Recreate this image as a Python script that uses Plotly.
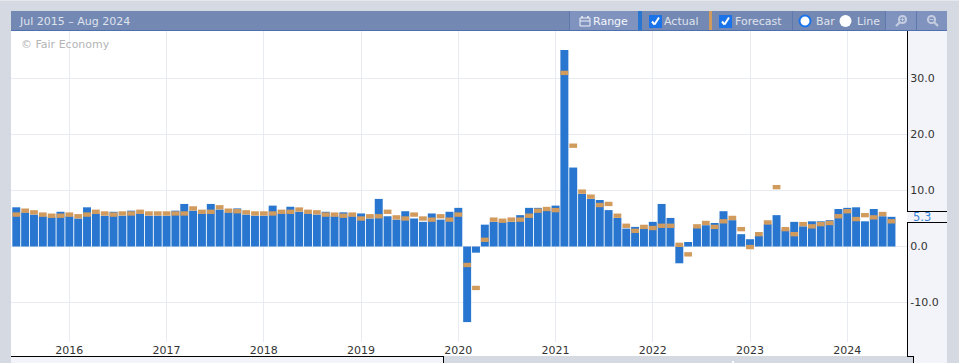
import plotly.graph_objects as go

actual = [7.0,6.1,5.7,5.4,5.2,6.2,5.4,5.0,7.0,5.9,5.5,6.2,5.5,6.4,5.9,5.5,5.5,5.5,6.4,7.6,
          6.4,5.9,7.6,6.6,6.1,6.8,5.7,5.5,5.5,7.3,5.9,7.1,6.2,5.9,5.7,6.2,5.4,6.1,5.4,5.9,
          5.0,8.5,5.4,4.8,6.3,5.0,4.4,5.9,4.8,6.2,6.9,-13.5,-1.1,3.9,4.4,4.4,4.4,5.6,6.9,6.9,
          6.4,7.3,35.1,14.1,9.4,8.5,8.3,6.5,5.1,3.2,3.5,3.2,4.4,7.6,5.1,-3.0,0.8,3.3,3.8,4.2,
          6.3,4.7,2.2,1.3,1.9,4.0,5.6,3.0,4.4,3.6,4.5,4.5,4.7,6.7,6.9,7.0,4.5,6.7,5.4,5.3]
forecast = [5.7,6.4,6.1,5.7,5.5,5.5,5.7,5.4,5.7,6.2,5.9,5.7,5.9,5.9,6.2,5.9,5.9,5.9,5.9,5.9,
            6.8,6.2,6.2,7.0,6.4,6.3,6.1,5.9,5.9,5.9,6.2,6.2,6.6,6.2,6.1,5.7,5.7,5.5,5.7,5.0,
            5.4,5.4,6.2,5.2,5.0,5.7,5.0,4.8,5.4,4.8,5.7,-3.3,-7.4,1.2,4.8,4.6,4.8,4.8,5.5,6.4,
            6.7,6.5,31.0,18.0,9.8,8.9,7.4,7.6,5.5,3.7,2.8,3.5,3.3,3.7,3.7,0.3,-1.4,3.6,4.2,3.5,
            4.5,5.1,3.1,-0.1,2.2,4.3,10.6,3.1,2.2,4.0,3.6,4.0,4.2,5.4,6.3,4.9,5.6,5.2,5.8,4.5]
year_labels = ["2016","2017","2018","2019","2020","2021","2022","2023","2024"]
year_first_bar = [6,17,28,39,50,61,72,83,94]
y_ticks = [-10,0,10,20,30]
FC_THICK = 0.78

W,H = 959,363
L,R,T,B = 11,907,31,342
def px(x): return (x-L)/(R-L)
def py(y): return (B-y)/(B-T)

FRAME="#d5d9e2"; PANEL="#f3f4f9"; BAR="#7488b4"; BTN="#8093bf"; BLUE="#2876cf"; SAND="#d29b5e"; TXT="#dfe3ec"; GRID="#e9ebf2"
shapes=[]
def rect(x0,y0,x1,y1,fill,layer="below",line=None,w=0):
    shapes.append(dict(type="rect",xref="paper",yref="paper",x0=px(x0),x1=px(x1),y0=py(y1),y1=py(y0),
        fillcolor=fill,layer=layer,line=dict(width=w,color=line or fill)))
def circ(cx,cy,r,fill,line=None,w=0):
    shapes.append(dict(type="circle",xref="paper",yref="paper",x0=px(cx-r),x1=px(cx+r),y0=py(cy+r),y1=py(cy-r),
        fillcolor=fill,layer="above",line=dict(width=w,color=line or fill)))
def seg(x0,y0,x1,y1,color,w=1,layer="above"):
    shapes.append(dict(type="line",xref="paper",yref="paper",x0=px(x0),x1=px(x1),y0=py(y0),y1=py(y1),
        layer=layer,line=dict(width=w,color=color)))

rect(0,0,W,11,FRAME); rect(0,0,11,H,FRAME); rect(947,0,W,H,FRAME)
rect(0,0,W,1,"#e6e8ee")
rect(907,31,947,356,PANEL)
rect(443,356,913,H,FRAME); rect(11,356,443,H,PANEL)
rect(913,356,947,H,PANEL); rect(732,361,734,H,"#ffffff")
seg(11,356.5,443,356.5,"#000"); seg(443.5,356,443.5,H,"#000")
seg(907,356.5,913.5,356.5,"#000"); seg(913.5,356,913.5,H,"#000"); seg(907.5,342,907.5,357,"#000")
# toolbar
rect(11,11,947,31,BAR,layer="above"); seg(11,30.5,947,30.5,"#4f6fae")
rect(569,11,638,30,BTN,layer="above"); rect(885,11,916,30,BTN,layer="above"); rect(917,11,947,30,BTN,layer="above")
for xs in (569,792,885,916): seg(xs+.5,11,xs+.5,30,"#5f78ad")
rect(638,11,642,30,BLUE,layer="above"); rect(709,11,712,30,SAND,layer="above")
for cb in (649,719):
    rect(cb,15,cb+13,28,"#1a73e8",layer="above")
    seg(cb+3,21.5,cb+5.5,24.5,"#fff",2); seg(cb+5.5,24.5,cb+10,17.5,"#fff",2)
circ(805,21,5.5,"#fff",line="#1a73e8",w=2); circ(845.5,21,6,"#fff")
# calendar icon
rect(580,18,590,26,"rgba(0,0,0,0)",layer="above",line="#eef0f6",w=1); seg(580,21,590,21,"#eef0f6",1)
seg(582,16,582,18,"#eef0f6",1.5); seg(588,16,588,18,"#eef0f6",1.5)
# magnifiers
circ(902.5,19.5,3.6,"rgba(0,0,0,0)",line="#c4cde0",w=2); seg(899.8,22.2,896,26,"#c4cde0",2.2); seg(900.5,19.5,904.5,19.5,"#c4cde0",1); seg(902.5,17.5,902.5,21.5,"#c4cde0",1)
circ(931.5,19.5,3.6,"rgba(0,0,0,0)",line="#c4cde0",w=2); seg(934.2,22.2,938,26,"#c4cde0",2.2); seg(929.5,19.5,933.5,19.5,"#c4cde0",1)
# current value box
rect(907,212,947,222,PANEL,layer="above")
seg(907,211.5,947,211.5,"#000"); seg(907,222.5,947,222.5,"#000")

FONT="DejaVu Sans"
ann=[]
def text(x,y,s,color=TXT,size=11):
    ann.append(dict(xref="paper",yref="paper",x=px(x),y=py(y),text=s,showarrow=False,xanchor="left",yanchor="middle",
        font=dict(family=FONT,size=size,color=color),borderpad=0,align="left"))
text(18,21,"Jul 2015 – Aug 2024",size=11)
text(592,21,"Range",color="#f4f6fa",size=11)
text(663,21,"Actual"); text(734,21,"Forecast"); text(815,21,"Bar"); text(856,21,"Line")
text(20,44,"© Fair Economy",color="#b5b5b5",size=11)
text(912,217,f"{actual[-1]:.1f}",color="#3a85d8",size=11.5)

idx=list(range(len(actual)))
fig=go.Figure()
fig.add_bar(x=idx,y=actual,width=0.9,marker=dict(color=BLUE,line=dict(width=0)),showlegend=False)
fig.add_bar(x=idx,y=[FC_THICK]*len(forecast),base=[f-FC_THICK/2 for f in forecast],width=0.88,
            marker=dict(color=SAND,line=dict(width=0)),showlegend=False)
fig.update_layout(barmode="overlay",width=W,height=H,margin=dict(l=L,r=W-R,t=T,b=H-B,pad=0),autosize=False,
    paper_bgcolor="#fff",plot_bgcolor="#fff",shapes=shapes,annotations=ann,font=dict(family=FONT,size=11,color="#333"),
    xaxis=dict(range=[(L-16.3)/8.84,(R-16.3)/8.84],tickvals=year_first_bar,ticktext=year_labels,showgrid=True,gridcolor=GRID,gridwidth=1,
               zeroline=False,showline=False,ticks="",ticklen=0,tickangle=0,tickfont=dict(size=11,color="#333"),automargin=False),
    yaxis=dict(range=[(246.5-B)/5.6,(246.5-T)/5.6],side="right",tickvals=y_ticks,ticktext=[f"{v:.1f}" for v in y_ticks],
               showgrid=True,gridcolor=GRID,gridwidth=1,zeroline=False,showline=True,linecolor="#000",linewidth=1,ticks="",
               tickfont=dict(size=11,color="#333"),automargin=False))
fig.write_html("out.html",post_script="document.body.style.margin='0';document.body.style.overflow='hidden';",config={"displayModeBar":False})
